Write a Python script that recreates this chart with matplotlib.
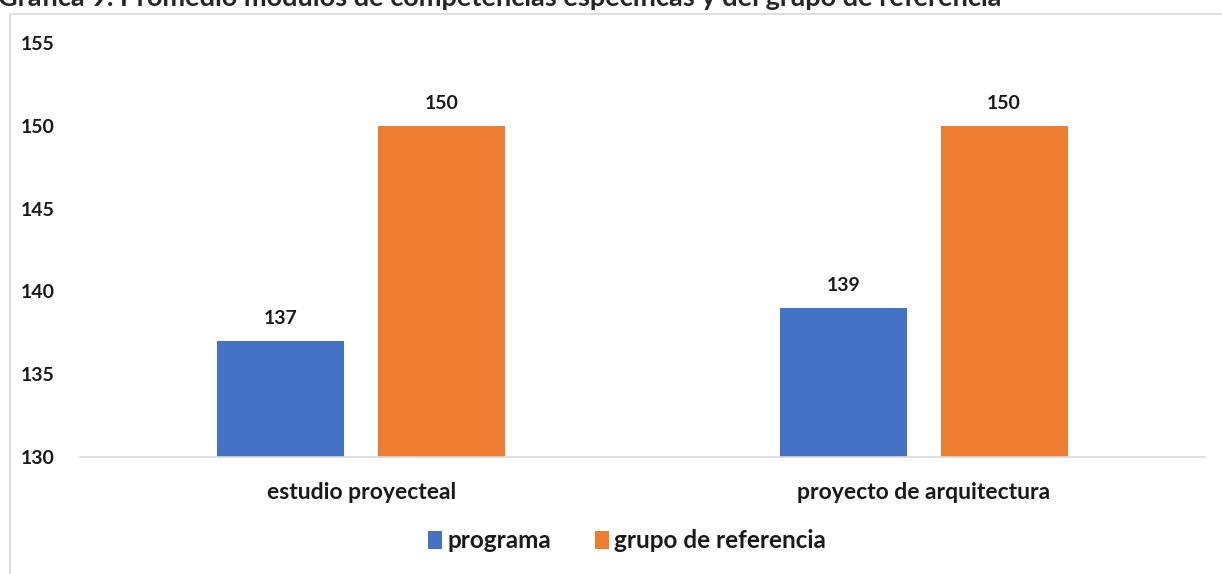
import matplotlib
matplotlib.use("Agg")
import matplotlib.pyplot as plt
import numpy as np
from matplotlib.patches import Rectangle

categories = ["estudio proyecteal", "proyecto de arquitectura"]
programa = [137, 139]
referencia = [150, 150]
series_names = ["programa", "grupo de referencia"]
yticks = [130, 135, 140, 145, 150, 155]
title = "Gráfica 9. Promedio módulos de competencias específicas y del grupo de referencia"

plt.rcParams['font.family'] = ['Lato', 'DejaVu Sans']
blue = "#4472C4"
orange = "#ED7D31"

fig = plt.figure(figsize=(12.22, 5.74), dpi=100)
fig.patches.append(Rectangle((10/1222, -0.1), 1.2, 1 - 14/574 + 0.1, transform=fig.transFigure,
                             fill=False, edgecolor="#D9D9D9", linewidth=1.2))
fig.text(-2/1222, 1 - 6/574, title, fontsize=19.5, fontweight='bold', color="#262626",
         ha='left', va='baseline')

ax = fig.add_axes([80/1222, 1 - 457/574, 1125/1222, (457 - 43)/574])
x = np.arange(len(categories))
w = 0.226
off = 0.143
b1 = ax.bar(x - off, [v - 130 for v in programa], w, bottom=130, color=blue, label=series_names[0])
b2 = ax.bar(x + off, [v - 130 for v in referencia], w, bottom=130, color=orange, label=series_names[1])
for xs, vals in [(x - off, programa), (x + off, referencia)]:
    for xi, v in zip(xs, vals):
        ax.annotate(str(v), (xi, v), xytext=(0, 10), textcoords='offset points',
                    ha='center', va='bottom', fontsize=14, fontweight='bold', color="#1a1a1a")

ax.set_xlim(-0.5, 1.5)
ax.set_ylim(130, 155)
ax.set_yticks(yticks)
ax.set_yticklabels([str(t) for t in yticks], fontsize=14, fontweight='bold', color="#1a1a1a")
ax.set_xticks(x)
ax.set_xticklabels(categories, fontsize=16.5, fontweight='bold', color="#1a1a1a")
ax.tick_params(axis='y', length=0, pad=18)
ax.tick_params(axis='x', length=0, pad=18)
for s in ['top', 'right', 'left']:
    ax.spines[s].set_visible(False)
ax.spines['bottom'].set_color("#D9D9D9")
ax.spines['bottom'].set_linewidth(1.2)

leg = fig.legend(handles=[b1, b2], loc='center', bbox_to_anchor=(627/1222, 1 - 541/574), ncol=2,
                 frameon=False, prop={'size': 17.5, 'weight': 'bold'}, handlelength=0.6,
                 handleheight=0.8, handletextpad=0.2, columnspacing=1.8)
for t in leg.get_texts():
    t.set_color("#1a1a1a")

fig.savefig("out.png", dpi=100)
